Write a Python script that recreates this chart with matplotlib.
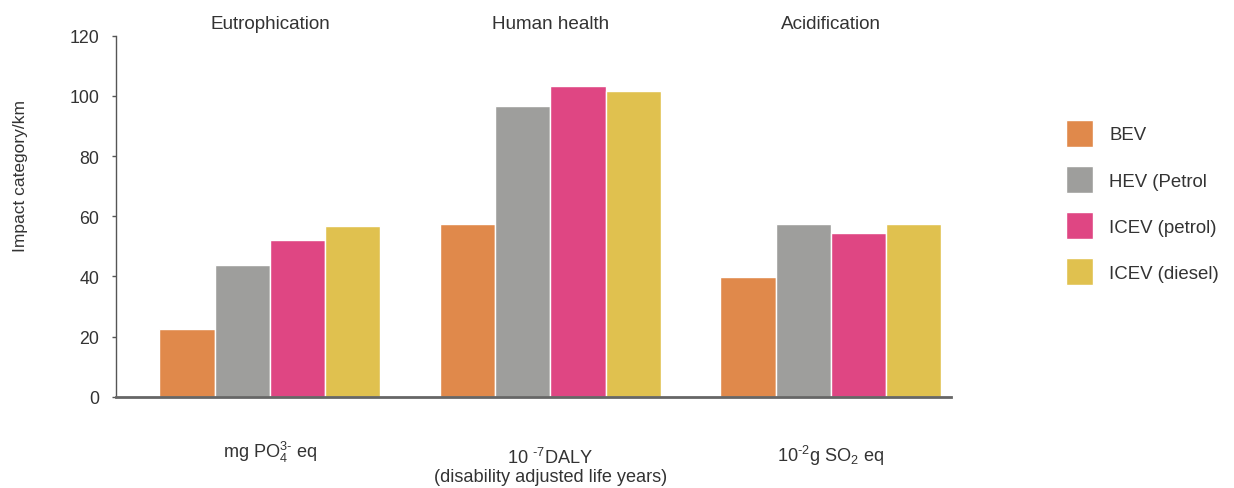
import numpy as np
import matplotlib
matplotlib.use('Agg')
import matplotlib.pyplot as plt

plt.rcParams['font.family'] = ['Liberation Sans', 'DejaVu Sans']
plt.rcParams['mathtext.fontset'] = 'custom'
plt.rcParams['mathtext.rm'] = 'Liberation Sans'
plt.rcParams['mathtext.it'] = 'Liberation Sans:italic'
plt.rcParams['mathtext.bf'] = 'Liberation Sans:bold'

# Impact categories and their units
categories = ['Eutrophication', 'Human health', 'Acidification']
units = [r'mg PO$_4^{3\text{-}}$ eq',
         r'10 $^{\text{-}7}$DALY',
         r'10$^{\text{-}2}$g SO$_2$ eq']
units_note = ['', '(disability adjusted life years)', '']

# Values per vehicle type
vehicles = ['BEV', 'HEV (Petrol', 'ICEV (petrol)', 'ICEV (diesel)']
bev = [22.5, 57.4, 39.8]
hev = [43.8, 96.6, 57.4]
icev_petrol = [52.1, 103.2, 54.4]
icev_diesel = [56.7, 101.6, 57.4]
colors = ['#E0894B', '#9E9E9C', '#DF4683', '#E0C14F']

series = [bev, hev, icev_petrol, icev_diesel]
text_color = '#333333'

fig = plt.figure(figsize=(12.34, 4.89), dpi=100)
ax = fig.add_axes([0.094, 0.1867, 0.6764, 0.7383])

x = np.arange(len(categories))
width = 0.197
for i, (vals, lab, col) in enumerate(zip(series, vehicles, colors)):
    ax.bar(x + (i - 1.5) * width, vals, width, color=col, label=lab,
           edgecolor='white', linewidth=1.0)

ax.set_xlim(-0.549, 2.427)
ax.set_ylim(0, 120)
ax.set_yticks(np.arange(0, 121, 20))
ax.set_xticks([])

for s in ['top', 'right']:
    ax.spines[s].set_visible(False)
ax.spines['left'].set_color('#555555')
ax.spines['left'].set_linewidth(1.0)
ax.spines['bottom'].set_color('#666666')
ax.spines['bottom'].set_linewidth(2.0)
ax.tick_params(axis='y', length=3, width=1, color='#555555',
               labelsize=12.8, labelcolor=text_color, pad=9)

# category titles above groups
for xi, cat in zip(x, categories):
    ax.text(xi, 1.035, cat, transform=ax.get_xaxis_transform(),
            ha='center', va='center', fontsize=13.6, color=text_color)

# unit labels below groups
unit_y = [-0.167, -0.184, -0.178]
for xi, u, n, uy in zip(x, units, units_note, unit_y):
    ax.text(xi, uy, u, transform=ax.get_xaxis_transform(),
            ha='center', va='baseline', fontsize=13.1, color=text_color)
    if n:
        ax.text(xi, -0.2335, n, transform=ax.get_xaxis_transform(),
                ha='center', va='baseline', fontsize=13.1, color=text_color)

fig.text(21 / 1234, 0.640, 'Impact category/km', rotation=90,
         ha='center', va='center', fontsize=12.5, color=text_color)

fig.legend(loc='upper left', bbox_to_anchor=(0.8639, 0.7526),
           frameon=False, borderpad=0, borderaxespad=0,
           handlelength=1.45, handleheight=1.86, labelspacing=1.02,
           handletextpad=0.86, fontsize=13.4, labelcolor=text_color)

fig.savefig('out.png', dpi=100)
